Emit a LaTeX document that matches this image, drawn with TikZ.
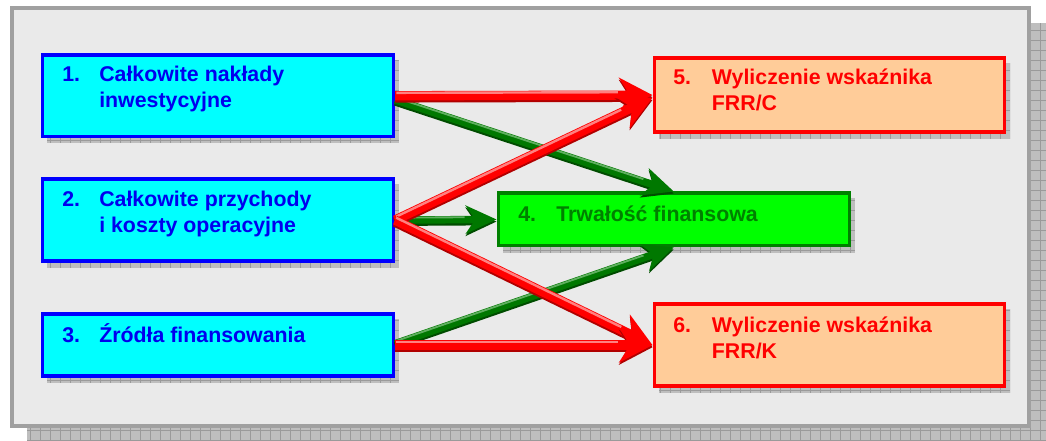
\documentclass[tikz,border=0pt]{standalone}
\usepackage{fontspec}
\setmainfont{Liberation Sans}
\usetikzlibrary{arrows.meta,calc}
\definecolor{bgpanel}{HTML}{EAEAEA}
\definecolor{panelborder}{HTML}{A0A0A0}
\definecolor{shfill}{HTML}{BEBEBE}
\definecolor{shgrid}{HTML}{9A9A9A}
\definecolor{cyanfill}{HTML}{00FFFF}
\definecolor{bluetxt}{HTML}{0000EE}
\definecolor{greenfill}{HTML}{00FF00}
\definecolor{greenborder}{HTML}{008000}
\definecolor{greentxt}{HTML}{008000}
\definecolor{peach}{HTML}{FFCC99}
\definecolor{redmain}{HTML}{FF0000}
\definecolor{reddark}{HTML}{B00000}
\definecolor{redlight}{HTML}{FF8080}
\definecolor{grnmain}{HTML}{007800}
\definecolor{grndark}{HTML}{004C00}
\definecolor{grnlight}{HTML}{5FAF5F}
\newcommand\hshadow[2]{%
  \begin{scope}
    \clip #1 rectangle #2;
    \fill[shfill] #1 rectangle #2;
    \draw[shgrid, line width=0.6pt, step=7.5pt] #1 grid #2;
  \end{scope}}
\newcommand\fatarrow[3]{%
  \draw[#1dark, #1shaft, transform canvas={yshift=-1.6pt}] #2 -- #3;
  \draw[#1main, #1shaft] #2 -- #3;
  \draw[#1light, #1hl] #2 -- #3;}
\begin{document}
\begin{tikzpicture}[x=0.75pt,y=-0.75pt,
  boxcyan/.style={draw=blue, line width=2.4pt, fill=cyanfill, inner sep=0pt, anchor=north west},
  boxgreen/.style={draw=greenborder, line width=2.4pt, fill=greenfill, inner sep=0pt, anchor=north west},
  boxpeach/.style={draw=redmain, line width=2.4pt, fill=peach, inner sep=0pt, anchor=north west},
  lbl/.style={anchor=base west, inner sep=0pt, font=\bfseries\fontsize{16pt}{19.5pt}\selectfont},
  redshaft/.style={line width=7pt, -{Stealth[length=25pt, width=26pt, inset=8pt]}},
  redhl/.style={line width=1.8pt, shorten >=26pt, shorten <=1pt, transform canvas={yshift=2.2pt}},
  grnshaft/.style={line width=5.6pt, -{Stealth[length=23pt, width=21pt, inset=7pt]}},
  grnhl/.style={line width=1.4pt, shorten >=24pt, shorten <=1pt, transform canvas={yshift=1.8pt}}]
\useasboundingbox (0,0) rectangle (1046,441);
% outer panel
\hshadow{(27,23)}{(1060,460)}
\draw[draw=panelborder, line width=2.4pt, fill=bgpanel] (12,8) rectangle (1029,426);
% box shadows
\hshadow{(47,60)}{(399,143)}
\hshadow{(47,184)}{(399,268)}
\hshadow{(47,319)}{(399,383)}
\hshadow{(503,198)}{(855,253)}
\hshadow{(659,63)}{(1010,139)}
\hshadow{(659,309)}{(1010,393)}
% boxes
\node[boxcyan, minimum width=263.5pt, minimum height=61pt] (n1) at (40.5,53.5) {};
\node[boxcyan, minimum width=263.5pt, minimum height=61.5pt] (n2) at (40.5,177.5) {};
\node[boxcyan, minimum width=263.5pt, minimum height=46.5pt] (n3) at (40.5,312.5) {};
\node[boxgreen, minimum width=263.5pt, minimum height=39.5pt] (n4) at (496.5,191.5) {};
\node[boxpeach, minimum width=262.5pt, minimum height=55.5pt] (n5) at (652.5,56.5) {};
\node[boxpeach, minimum width=262.5pt, minimum height=61.5pt] (n6) at (652.5,302.5) {};
% labels
\node[lbl, text=bluetxt] (t1) at (62,82) {\begin{tabular}[t]{@{}l@{}}\makebox[27.75pt][l]{1.}Całkowite nakłady\\\makebox[27.75pt][l]{}inwestycyjne\end{tabular}};
\node[lbl, text=bluetxt] (t2) at (62,207) {\begin{tabular}[t]{@{}l@{}}\makebox[27.75pt][l]{2.}Całkowite przychody\\\makebox[27.75pt][l]{}i koszty operacyjne\end{tabular}};
\node[lbl, text=bluetxt] (t3) at (62,343) {\makebox[27.75pt][l]{3.}Źródła finansowania};
\node[lbl, text=greentxt] (t4) at (518,222) {\makebox[28.5pt][l]{4.}Trwałość finansowa};
\node[lbl, text=redmain] (t5) at (673,85) {\begin{tabular}[t]{@{}l@{}}\makebox[29pt][l]{5.}Wyliczenie wskaźnika\\\makebox[29pt][l]{}FRR/C\end{tabular}};
\node[lbl, text=redmain] (t6) at (673,333) {\begin{tabular}[t]{@{}l@{}}\makebox[29pt][l]{6.}Wyliczenie wskaźnika\\\makebox[29pt][l]{}FRR/K\end{tabular}};
% green arrows
\fatarrow{grn}{([yshift=-3pt]n1.east)}{(n4.north)}
\fatarrow{grn}{(n2.east)}{(n4.west)}
\fatarrow{grn}{([yshift=1pt]n3.east)}{(n4.south)}
% red arrows
\fatarrow{red}{(n1.east)}{(n5.west)}
\fatarrow{red}{(n2.east)}{([yshift=-2pt]n5.west)}
\fatarrow{red}{(n2.east)}{(n6.west)}
\fatarrow{red}{(n3.east)}{(n6.west)}
\end{tikzpicture}
\end{document}
